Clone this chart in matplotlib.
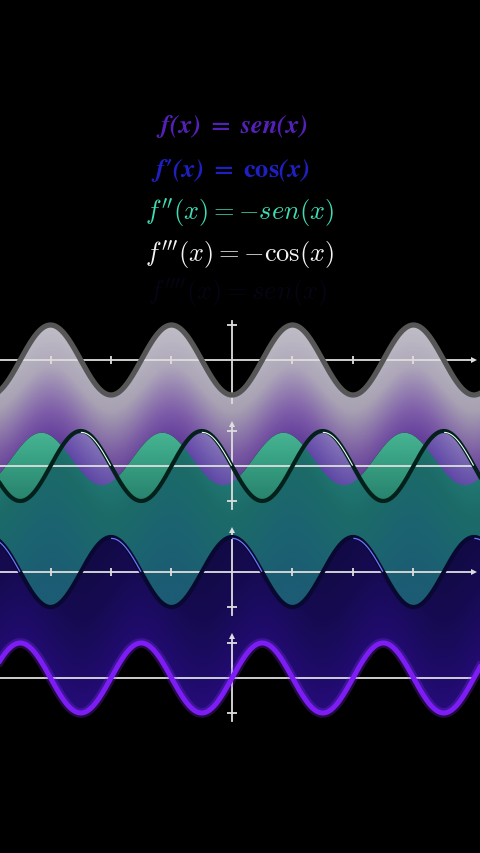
import numpy as np
import matplotlib.pyplot as plt
from matplotlib.colors import LinearSegmentedColormap
from matplotlib.patches import Polygon

plt.rcParams['mathtext.fontset'] = 'cm'

# formulas, top to bottom
labels = [r"$\mathbfit{f(x)}\ \mathbf{=}\ \mathbfit{sen(x)}$",
          "$\\mathbfit{f}\\mathbf{\u2032}\\mathbfit{(x)}\\ \\mathbf{=}\\ \\mathbf{cos}\\mathbfit{(x)}$",
          r"$f''(x) = -sen(x)$",
          r"$f'''(x) = -\cos(x)$"]
label_colors = ['#5321b8', '#1f1fc4', '#3fdcb4', '#f4f4f4']
label_math = ['stix', 'stix', 'cm', 'cm']
ghost_label = r"$f''''(x) = sen(x)$"

# curves, top to bottom: f''' , f'' , f' , f
curve_names = ['-cos', '-sin', 'cos', 'sin']
tick_mult = [-3, -2, -1, 1, 2, 3]   # x ticks, multiples of pi

# layout: 1 data unit = 35 px vertically, pi = 60.5 px horizontally
W, H = 480, 854
PX_PI = 60.5
PX_UNIT = 35.0
X0 = 232


def px_x(p):
    return (p - X0) / PX_PI * np.pi


def px_y(p):
    return -p / PX_UNIT


base = [px_y(361), px_y(467), px_y(573), px_y(679)]

fig = plt.figure(figsize=(W / 100, H / 100), dpi=100, facecolor='black')
ax = fig.add_axes([0, 0, 1, 1])
ax.set_facecolor('black')
ax.axis('off')

x = np.linspace(px_x(-5), px_x(W + 5), 1200)
funcs = {'-cos': -np.cos(x), '-sin': -np.sin(x), 'cos': np.cos(x), 'sin': np.sin(x)}
curves = [b + funcs[n] for b, n in zip(base, curve_names)]
# lagging copy of the f'' curve (mid-animation frame)
ghost = base[1] + 0.2 - 0.75 * np.cos(x + 0.15 * np.pi)


def gradient_fill(top, bottom, colors, amp, phase, alpha, z):
    ny, nx = 240, 480
    xs = np.linspace(x[0], x[-1], nx)
    v = np.linspace(0, 1, ny)[:, None]
    t = np.clip(v - amp * np.cos(xs[None, :] - phase), 0, 1)
    cmap = LinearSegmentedColormap.from_list('g', colors)
    rgba = cmap(t)
    if np.ndim(alpha) == 0:
        rgba[..., 3] = alpha
    else:
        rgba[..., 3] = np.interp(v, [0, 1], alpha)[:, :1] * np.ones(nx)
    im = ax.imshow(rgba, extent=(x[0], x[-1], bottom.min(), top.max()),
                   origin='upper', aspect='auto', interpolation='bilinear', zorder=z)
    poly = Polygon(np.column_stack([np.r_[x, x[::-1]], np.r_[top, bottom[::-1]]]),
                   closed=True, facecolor='none', edgecolor='none')
    ax.add_patch(poly)
    im.set_clip_path(poly)


# teal band between f'' and f'
gradient_fill(curves[1], curves[2], ['#24807a', '#1c6b68', '#1b6470', '#1c5c74'],
              0.15, 0.0, 1.0, 1)
# navy band between f' and f
gradient_fill(curves[2], curves[3], ['#120a46', '#160b52', '#1f0b6a', '#2c0d88'],
              0.15, np.pi / 2 + np.pi, 1.0, 1)
# grey -> purple band under f'''
gradient_fill(curves[0], ghost,
              [(0, '#cfcfd2'), (0.4, '#bdb6ca'), (0.68, '#8f6ac0'), (1, '#5e2cac')],
              0.14, 0.0, [0.97, 0.82], 2)
# green ghost of f''
gradient_fill(np.maximum(ghost, curves[1]), curves[1],
              ['#4cc09c', '#39a688', '#2b8a74'], 0.0, 0.0, 0.95, 3)

# axes
axis_c = '#dedede'
for i, b in enumerate(base):
    ax.plot([x[0], px_x(474)], [b, b], color=axis_c, lw=1.3, zorder=4, solid_capstyle='butt')
    top = 1.12 if i == 0 else 1.2
    ax.plot([0, 0], [b - 1.22, b + top], color=axis_c, lw=1.3, zorder=4)
    ax.plot([0, 0], [b - 1, b + 1], ls='none', marker='_', ms=7, mew=1.3,
            color=axis_c, zorder=4)
    if i > 0:
        ax.plot(0, b + 1.2, marker='^', ms=5, color=axis_c, mew=0, zorder=4)
    if i in (0, 2):
        ticks = np.array(tick_mult) * np.pi
        ax.plot(ticks, np.full(len(ticks), b), ls='none', marker='|', ms=6,
                mew=1.3, color=axis_c, zorder=4)
        ax.plot(px_x(474), b, marker='>', ms=5, color=axis_c, mew=0, zorder=4)

# curves
ax.plot(x, curves[0], color='#565656', lw=3.8, zorder=5)

ax.plot(x, curves[1], color='#04201b', lw=3.0, zorder=5)
m = np.where((np.sin(x) < -0.05) & (np.cos(x) > 0), 1.0, np.nan)
ax.plot(x + 0.03, curves[1] * m - 0.04, color='#e8fff6', lw=0.8, zorder=6)

ax.plot(x, curves[2], color='#080830', lw=3.0, zorder=5)
m = np.where((np.cos(x) > 0.05) & (np.sin(x) > 0), 1.0, np.nan)
ax.plot(x + 0.03, curves[2] * m - 0.04, color='#6a78ff', lw=0.9, zorder=6)

ax.plot(x, curves[3], color='#8a30ff', lw=7, alpha=0.25, zorder=5)
ax.plot(x, curves[3], color='#7d1cf4', lw=3.6, zorder=5)

# formulas
label_y = [127, 170, 213, 255]
label_x = [232, 230, 240, 240]
label_fs = [19, 19, 19, 19]
for s, c, mf, lx, ly, fs in zip(labels, label_colors, label_math, label_x, label_y, label_fs):
    ax.text(px_x(lx), px_y(ly), s, color=c, fontsize=fs, ha='center', va='center',
            math_fontfamily=mf, zorder=7)
ax.text(px_x(238), px_y(293), ghost_label, color='#3a1890', alpha=0.15, fontsize=19,
        ha='center', va='center', math_fontfamily='cm', zorder=7)

ax.set_xlim(px_x(0), px_x(W))
ax.set_ylim(px_y(H), px_y(0))
fig.savefig('out.png', dpi=100, facecolor='black')
